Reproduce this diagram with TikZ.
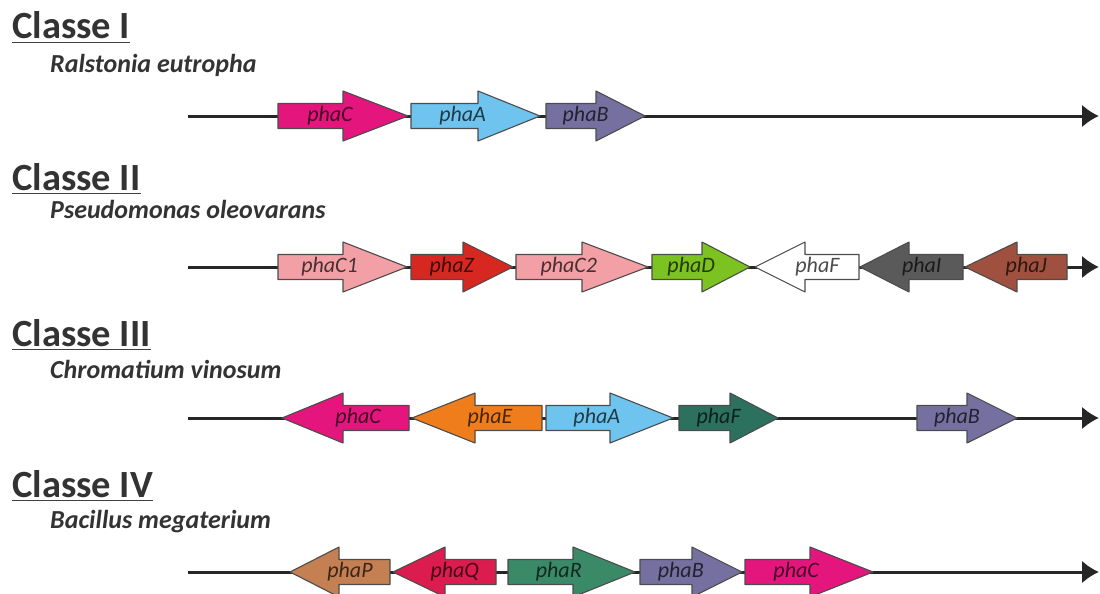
\documentclass[tikz,border=0pt]{standalone}
\usepackage{fontspec}
\setmainfont{Carlito}
\usetikzlibrary{arrows.meta}
\tikzset{>=latex}
\definecolor{mymagenta}{RGB}{228,22,125}
\definecolor{mylightblue}{RGB}{110,196,238}
\definecolor{mypurple}{RGB}{118,112,160}
\definecolor{mypink}{RGB}{242,160,165}
\definecolor{myred}{RGB}{214,40,32}
\definecolor{mygreen}{RGB}{124,194,32}
\definecolor{mygrey}{RGB}{90,90,90}
\definecolor{mybrown}{RGB}{160,80,62}
\definecolor{myorange}{RGB}{240,125,28}
\definecolor{myteal}{RGB}{44,112,94}
\definecolor{mytan}{RGB}{196,128,82}
\definecolor{mycrimson}{RGB}{220,28,78}
\definecolor{myseagreen}{RGB}{58,138,104}

% gene arrow: name, tail x, head x, tip x, y, colour, label
\newcommand{\gene}[7]{%
  \draw[genebox, fill=#6] (#2,#5-12.5) -- (#3,#5-12.5) -- (#3,#5-25) -- (#4,#5)
    -- (#3,#5+25) -- (#3,#5+12.5) -- (#2,#5+12.5) -- cycle;
  \node[genelabel] (#1) at ({#2+0.4*(#4-#2)},#5) {#7};}

\begin{document}
\begin{tikzpicture}[x=1pt,y=-1pt,line join=round]
  \tikzstyle{classe}=[inner sep=0pt,anchor=base west,text=black!80,font=\bfseries\fontsize{38.5}{40}\selectfont]
  \tikzstyle{species}=[inner sep=0pt,anchor=base west,text=black!80,font=\bfseries\itshape\fontsize{26}{28}\selectfont]
  \tikzstyle{uline}=[line width=1.8pt,black!75]
  \tikzstyle{backbone}=[line width=3pt,black!85,-{Latex[length=17pt,width=23pt]}]
  \tikzstyle{genebox}=[draw=black!70,line width=1.1pt]
  \tikzstyle{genelabel}=[inner sep=0pt,text=black,text opacity=0.7,font=\itshape\fontsize{22}{23}\selectfont]

  \useasboundingbox (0,0) rectangle (1100,594);

  % titles
  \node[classe] (c1) at (12,39) {Classe I};
  \node[classe] (c2) at (12,190) {Classe II};
  \node[classe] (c3) at (12,346) {Classe III};
  \node[classe] (c4) at (12,497) {Classe IV};
  \foreach \c in {c1,c2,c3,c4}
    \draw[uline] ([yshift=-3.5pt]\c.base west) -- ([yshift=-3.5pt]\c.base east);

  \node[species] (s1) at (50,72) {Ralstonia eutropha};
  \node[species] (s2) at (50,218) {Pseudomonas oleovarans};
  \node[species] (s3) at (50,378) {Chromatium vinosum};
  \node[species] (s4) at (50,528) {Bacillus megaterium};

  % backbones
  \coordinate (r1s) at (188,116);  \coordinate (r1e) at (1099,116);
  \coordinate (r2s) at (188,267);  \coordinate (r2e) at (1099,267);
  \coordinate (r3s) at (188,418);  \coordinate (r3e) at (1099,418);
  \coordinate (r4s) at (188,572);  \coordinate (r4e) at (1099,572);
  \foreach \r in {1,2,3,4}
    \draw[backbone] (r\r s) -- (r\r e);

  % Classe I
  \gene{g1c}{278}{343}{408}{116}{mymagenta}{phaC}
  \gene{g1a}{411}{478}{540}{116}{mylightblue}{phaA}
  \gene{g1b}{546}{596}{645}{116}{mypurple}{phaB}

  % Classe II
  \gene{g2c1}{278}{343}{407}{267}{mypink}{phaC1}
  \gene{g2z}{411}{463}{513}{267}{myred}{phaZ}
  \gene{g2c2}{516}{582}{648}{267}{mypink}{phaC2}
  \gene{g2d}{652}{702}{750}{267}{mygreen}{phaD}
  \gene{g2f}{859}{805}{755}{267}{white}{phaF}
  \gene{g2i}{963}{909}{860}{267}{mygrey}{phaI}
  \gene{g2j}{1067}{1017}{965}{267}{mybrown}{phaJ}

  % Classe III
  \gene{g3c}{409}{343}{282}{418}{mymagenta}{phaC}
  \gene{g3e}{542}{475}{412}{418}{myorange}{phaE}
  \gene{g3a}{546}{610}{673}{418}{mylightblue}{phaA}
  \gene{g3f}{679}{730}{778}{418}{myteal}{phaF}
  \gene{g3b}{917}{967}{1017}{418}{mypurple}{phaB}

  % Classe IV
  \gene{g4p}{390}{339}{290}{572}{mytan}{phaP}
  \gene{g4q}{496}{445}{393}{572}{mycrimson}{phaQ}
  \gene{g4r}{508}{573}{635}{572}{myseagreen}{phaR}
  \gene{g4b}{640}{692}{742}{572}{mypurple}{phaB}
  \gene{g4c}{745}{810}{873}{572}{mymagenta}{phaC}
\end{tikzpicture}
\end{document}
